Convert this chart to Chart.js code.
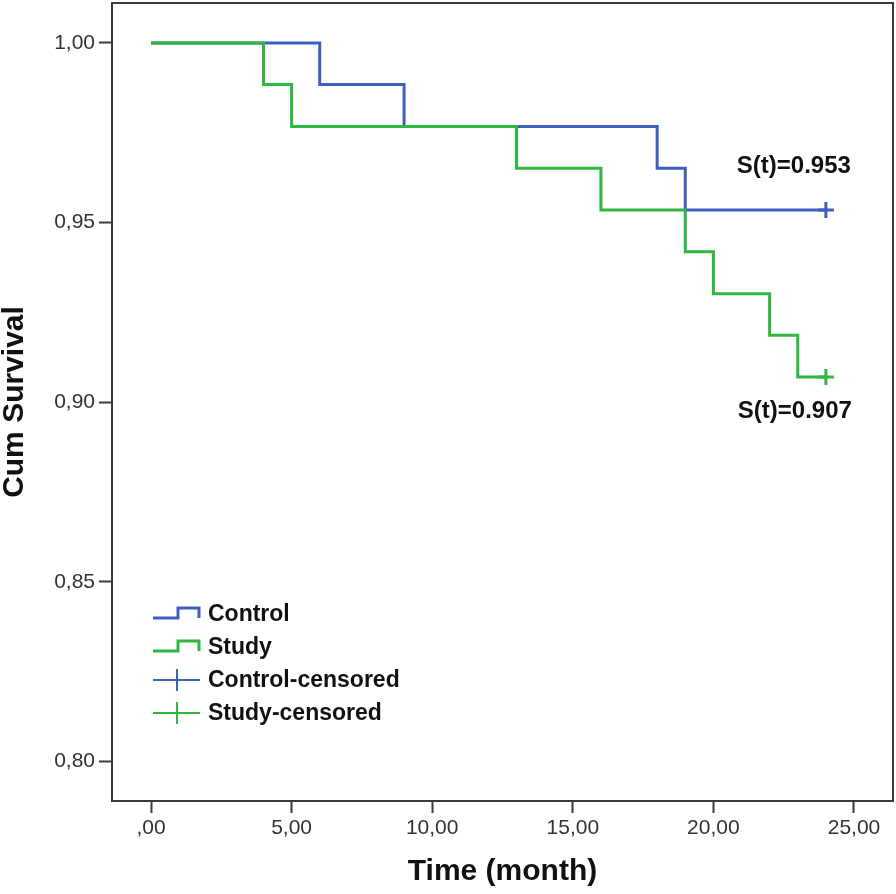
<!DOCTYPE html>
<html lang="en">
<head>
  <meta charset="UTF-8" />
  <title>Kaplan-Meier Survival</title>
  <script src="https://cdn.jsdelivr.net/npm/chart.js"></script>
  <style>
    html, body { margin: 0; padding: 0; background: #fff; }
  </style>
</head>
<body>
  <canvas id="kmChart" width="896" height="894"></canvas>

  <script>
    // survival steps (time in months, cumulative survival)
    const controlTimes = [0, 6, 9, 18, 19, 24];
    const controlSurv  = [1.000, 0.9884, 0.9767, 0.9651, 0.9535, 0.9535];
    const studyTimes   = [0, 4, 5, 13, 16, 19, 20, 22, 23, 24];
    const studySurv    = [1.000, 0.9884, 0.9767, 0.9651, 0.9535, 0.9419, 0.9302, 0.9186, 0.907, 0.907];

    // censored observations
    const controlCensorTimes = [24];
    const controlCensorSurv  = [0.9535];
    const studyCensorTimes   = [24];
    const studyCensorSurv    = [0.907];

    const xTicks = [0, 5, 10, 15, 20, 25];
    const yTicks = [0.80, 0.85, 0.90, 0.95, 1.00];

    const legendLabels = ['Control', 'Study', 'Control-censored', 'Study-censored'];
    const finalLabels = ['S(t)=0.953', 'S(t)=0.907'];

    const BLUE = '#3f5fc0';
    const GREEN = '#2fb83f';
    const AXIS = '#3a3a3a';

    const toPoints = (xs, ys) => xs.map((x, i) => ({ x: x, y: ys[i] }));

    // frame on top + right, legend inside plot, S(t) notes
    const extrasPlugin = {
      id: 'extras',
      afterDraw(chart) {
        const ctx = chart.ctx;
        const a = chart.chartArea;
        const xs = chart.scales.x, ys = chart.scales.y;
        ctx.save();
        ctx.strokeStyle = AXIS;
        ctx.lineWidth = 2;
        ctx.beginPath();
        ctx.moveTo(a.left, a.top);
        ctx.lineTo(a.right, a.top);
        ctx.lineTo(a.right, a.bottom);
        ctx.stroke();

        // S(t) notes
        ctx.fillStyle = '#111';
        ctx.font = 'bold 24px "Liberation Sans", Arial, sans-serif';
        ctx.textAlign = 'center';
        ctx.textBaseline = 'alphabetic';
        const cx = xs.getPixelForValue(controlCensorTimes[0]) - 32;
        ctx.fillText(finalLabels[0], cx, ys.getPixelForValue(controlCensorSurv[0]) - 37);
        const sx = xs.getPixelForValue(studyCensorTimes[0]) - 31;
        ctx.fillText(finalLabels[1], sx, ys.getPixelForValue(studyCensorSurv[0]) + 41);

        // legend
        const colors = [BLUE, GREEN, BLUE, GREEN];
        const lx = 153, rowY0 = 614, rowGap = 33;
        ctx.font = 'bold 23px "Liberation Sans", Arial, sans-serif';
        ctx.textAlign = 'left';
        ctx.textBaseline = 'middle';
        legendLabels.forEach((lab, i) => {
          const y = rowY0 + i * rowGap;
          ctx.strokeStyle = colors[i];
          ctx.beginPath();
          if (i < 2) {
            ctx.lineWidth = 3;
            ctx.moveTo(lx, y + 4);
            ctx.lineTo(lx + 25, y + 4);
            ctx.lineTo(lx + 25, y - 6);
            ctx.lineTo(lx + 46, y - 6);
            ctx.lineTo(lx + 46, y + 4);
          } else {
            ctx.lineWidth = 2;
            ctx.moveTo(lx, y);
            ctx.lineTo(lx + 47, y);
            ctx.moveTo(lx + 24, y - 11);
            ctx.lineTo(lx + 24, y + 11);
          }
          ctx.stroke();
          ctx.fillStyle = '#111';
          ctx.fillText(lab, lx + 55, y + 1);
        });
        ctx.restore();
      }
    };

    const tickFmt = v => {
      const s = Number(v).toFixed(2).replace('.', ',');
      return v === 0 ? ',00' : s;
    };

    new Chart(document.getElementById('kmChart'), {
      type: 'line',
      data: {
        datasets: [
          {
            label: 'Study',
            data: toPoints(studyTimes, studySurv),
            borderColor: GREEN,
            borderWidth: 3,
            stepped: 'before',
            pointRadius: 0,
            fill: false,
            order: 1
          },
          {
            label: 'Control',
            data: toPoints(controlTimes, controlSurv),
            borderColor: BLUE,
            borderWidth: 3,
            stepped: 'before',
            pointRadius: 0,
            fill: false,
            order: 2
          },
          {
            label: 'Control-censored',
            data: toPoints(controlCensorTimes, controlCensorSurv),
            showLine: false,
            pointStyle: 'cross',
            pointRadius: 8,
            pointBorderWidth: 3,
            borderColor: BLUE,
            order: 0
          },
          {
            label: 'Study-censored',
            data: toPoints(studyCensorTimes, studyCensorSurv),
            showLine: false,
            pointStyle: 'cross',
            pointRadius: 8,
            pointBorderWidth: 3,
            borderColor: GREEN,
            order: 0
          }
        ]
      },
      options: {
        responsive: false,
        animation: false,
        layout: { autoPadding: false, padding: { left: 0, right: 3, top: 3, bottom: 0 } },
        plugins: {
          legend: { display: false },
          tooltip: { enabled: false }
        },
        scales: {
          x: {
            type: 'linear',
            min: -1.387,
            max: 26.387,
            afterBuildTicks: s => { s.ticks = xTicks.map(v => ({ value: v })); },
            afterFit: s => {
              s.height = 93;
              s.paddingLeft = 0;
              s.paddingRight = 0;
            },
            ticks: {
              callback: tickFmt,
              color: '#333',
              padding: 3,
              maxRotation: 0,
              font: { family: '"Liberation Sans", Arial, sans-serif', size: 21 }
            },
            grid: {
              drawOnChartArea: false,
              drawTicks: true,
              tickLength: 12,
              tickWidth: 2,
              tickColor: AXIS
            },
            border: { display: true, color: AXIS, width: 2 },
            title: {
              display: true,
              text: 'Time (month)',
              color: '#111',
              padding: { top: 0, bottom: 7 },
              font: { family: '"Liberation Sans", Arial, sans-serif', size: 30, weight: 'bold', lineHeight: 1 }
            }
          },
          y: {
            type: 'linear',
            min: 0.789,
            max: 1.0111,
            afterBuildTicks: s => { s.ticks = yTicks.map(v => ({ value: v })); },
            afterFit: s => {
              s.width = 112;
              s.paddingTop = 0;
              s.paddingBottom = 0;
            },
            ticks: {
              callback: tickFmt,
              color: '#333',
              padding: 4,
              font: { family: '"Liberation Sans", Arial, sans-serif', size: 21 }
            },
            grid: {
              drawOnChartArea: false,
              drawTicks: true,
              tickLength: 13,
              tickWidth: 2,
              tickColor: AXIS
            },
            border: { display: true, color: AXIS, width: 2 },
            title: {
              display: true,
              text: 'Cum Survival',
              color: '#111',
              padding: { top: 0, bottom: 0 },
              font: { family: '"Liberation Sans", Arial, sans-serif', size: 30, weight: 'bold', lineHeight: 1 }
            }
          }
        }
      },
      plugins: [extrasPlugin]
    });
  </script>
</body>
</html>
